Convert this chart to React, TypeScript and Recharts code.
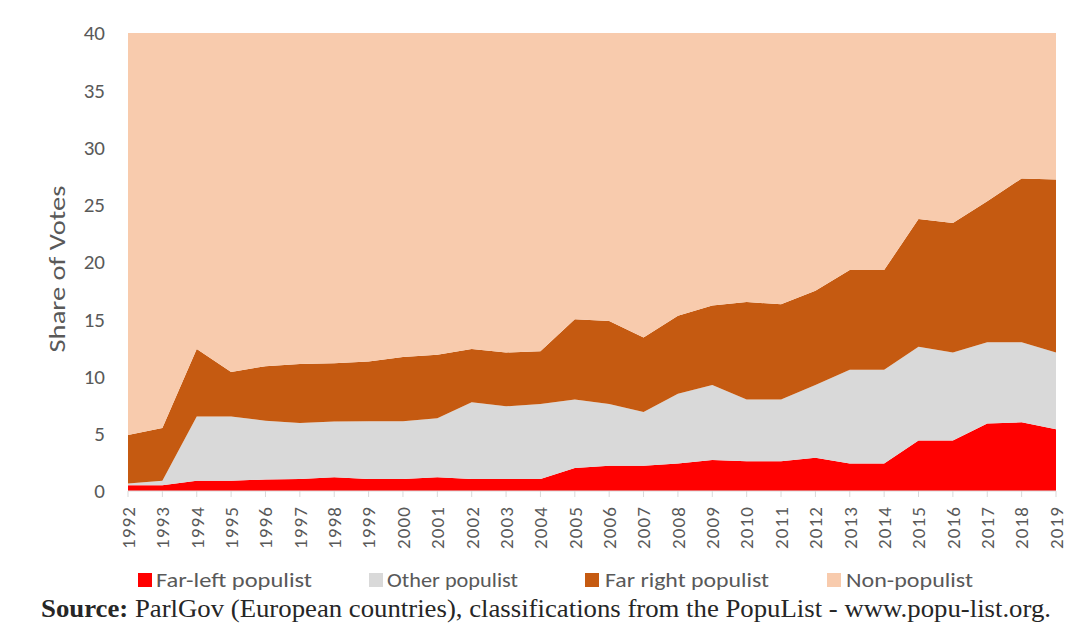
import React from 'react';
import { AreaChart, Area, XAxis, YAxis } from 'recharts';

const years = ['1992','1993','1994','1995','1996','1997','1998','1999','2000','2001','2002','2003','2004','2005','2006','2007','2008','2009','2010','2011','2012','2013','2014','2015','2016','2017','2018','2019'];
const farLeft = [0.5,0.5,0.9,0.9,1.0,1.05,1.2,1.05,1.05,1.2,1.05,1.05,1.05,2.0,2.2,2.2,2.4,2.7,2.6,2.6,2.9,2.4,2.4,4.4,4.4,5.9,6.0,5.4];
const otherPopulist = [0.15,0.4,5.6,5.6,5.14,4.89,4.88,5.05,5.05,5.15,6.7,6.35,6.55,6.0,5.4,4.7,6.1,6.55,5.4,5.4,6.35,8.2,8.2,8.2,7.7,7.1,7.0,6.7];
const farRight = [4.25,4.6,5.9,3.9,4.76,5.16,5.07,5.2,5.6,5.55,4.65,4.7,4.6,7.0,7.25,6.5,6.8,6.95,8.5,8.3,8.25,8.7,8.7,11.15,11.3,12.3,14.3,15.1];
const nonPopulist = [95.1,94.5,87.6,89.6,89.1,88.9,88.85,88.7,88.3,88.1,87.6,87.9,87.8,85.0,85.15,86.6,84.7,83.8,83.5,83.7,82.5,80.7,80.7,76.25,76.6,74.7,72.7,72.8];
const yTicks = [0,5,10,15,20,25,30,35,40];

const seriesNames = ['Far-left populist','Other populist','Far right populist','Non-populist'];
const seriesColors = ['#FF0000','#D9D9D9','#C55A11','#F8CBAD'];

const data = years.map((y, i) => ({
  year: y,
  farLeft: farLeft[i],
  other: otherPopulist[i],
  farRight: farRight[i],
  non: nonPopulist[i],
}));

const FONT = "Carlito, 'Open Sans', 'Liberation Sans', sans-serif";
const GREY = '#595959';

const XTick = (props: any) => {
  const { x, y, payload } = props;
  return (
    <text
      x={x}
      y={y}
      transform={`rotate(-90, ${x}, ${y})`}
      textAnchor="end"
      dy="0.36em"
      fill={GREY}
      fontSize={19}
      fontFamily={FONT}
      textLength={42}
      lengthAdjust="spacing"
    >
      {payload.value}
    </text>
  );
};

const YLabel = (props: any) => {
  const vb = props.viewBox || { x: 0, y: 33, width: 128, height: 458 };
  const cx = 57;
  const cy = vb.y + vb.height / 2 + 7;
  return (
    <text
      x={cx}
      y={cy}
      transform={`rotate(-90, ${cx}, ${cy})`}
      textAnchor="middle"
      dominantBaseline="central"
      fill={GREY}
      fontSize={23}
      fontFamily={FONT}
      textLength={167}
      lengthAdjust="spacingAndGlyphs"
    >
      Share of Votes
    </text>
  );
};

const legendItems = [
  { sq: 138, tx: 156, w: 156 },
  { sq: 369, tx: 387, w: 131 },
  { sq: 585, tx: 605, w: 164 },
  { sq: 827, tx: 846, w: 127 },
];

export default function App() {
  const keys = ['farLeft', 'other', 'farRight', 'non'];
  return (
    <div style={{ position: 'absolute', left: 0, top: 0, width: 1074, height: 629, background: '#fff' }}>
      <AreaChart
        width={1074}
        height={629}
        data={data}
        margin={{ top: 33, right: 18, bottom: 78, left: 0 }}
      >
        <XAxis
          dataKey="year"
          height={60}
          tick={<XTick />}
          tickSize={6}
          tickMargin={10}
          interval={0}
          axisLine={{ stroke: '#D9D9D9', strokeWidth: 1 }}
          tickLine={{ stroke: '#D9D9D9', strokeWidth: 1 }}
        />
        <YAxis
          width={128}
          domain={[0, 40]}
          ticks={yTicks}
          allowDataOverflow
          axisLine={false}
          tickLine={false}
          tickSize={0}
          tickMargin={23}
          tick={{ fill: GREY, fontSize: 21, fontFamily: FONT }}
          label={<YLabel />}
        />
        {keys.map((k, i) => (
          <Area
            key={k}
            type="linear"
            dataKey={k}
            name={seriesNames[i]}
            stackId="1"
            stroke="none"
            fill={seriesColors[i]}
            fillOpacity={1}
            isAnimationActive={false}
            activeDot={false}
            dot={false}
          />
        ))}
      </AreaChart>
      <svg width={1074} height={629} style={{ position: 'absolute', left: 0, top: 0, pointerEvents: 'none' }}>
        {legendItems.map((it, i) => (
          <g key={i}>
            <rect x={it.sq} y={573} width={14} height={14} fill={seriesColors[i]} />
            <text
              x={it.tx}
              y={580}
              dominantBaseline="central"
              fill={GREY}
              fontSize={21}
              fontFamily={FONT}
              textLength={it.w}
              lengthAdjust="spacingAndGlyphs"
            >
              {seriesNames[i]}
            </text>
          </g>
        ))}
        <text
          x={41}
          y={617}
          fill="#262626"
          fontSize={25}
          fontFamily="'Liberation Serif', 'Times New Roman', serif"
          textLength={1010}
          lengthAdjust="spacingAndGlyphs"
        >
          <tspan fontWeight="bold">Source:</tspan>
          <tspan> ParlGov (European countries), classifications from the PopuList - www.popu-list.org.</tspan>
        </text>
      </svg>
    </div>
  );
}
